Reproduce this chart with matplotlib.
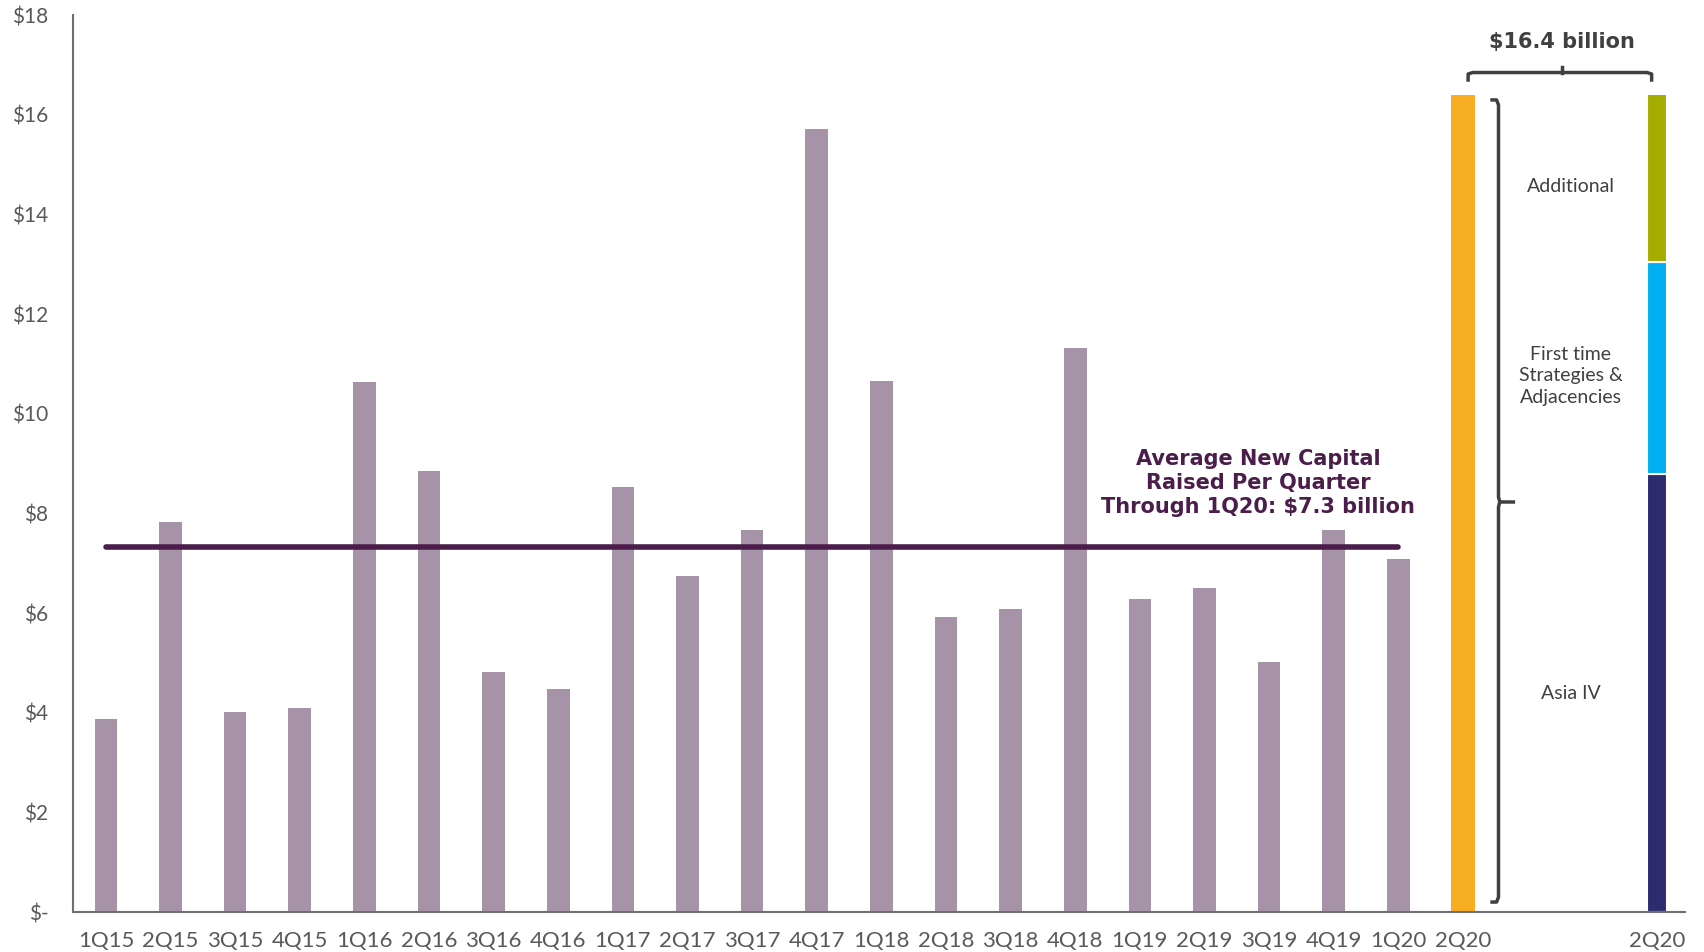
import matplotlib.pyplot as plt
import numpy as np

quarters = ["1Q15", "2Q15", "3Q15", "4Q15", "1Q16", "2Q16", "3Q16", "4Q16",
            "1Q17", "2Q17", "3Q17", "4Q17", "1Q18", "2Q18", "3Q18", "4Q18",
            "1Q19", "2Q19", "3Q19", "4Q19", "1Q20"]
raised = [3.88, 7.83, 4.01, 4.10, 10.63, 8.86, 4.82, 4.47,
          8.53, 6.74, 7.66, 15.71, 10.65, 5.93, 6.09, 11.32,
          6.28, 6.50, 5.02, 7.66, 7.09]
total_2q20 = 16.4
avg_label = 7.33
seg_names = ["Asia IV", "First time\nStrategies &\nAdjacencies", "Additional"]
seg_values = [8.79, 4.26, 3.36]
seg_colors = ["#2A2C6E", "#00B0F0", "#A5AD00"]
yticks = [0, 2, 4, 6, 8, 10, 12, 14, 16, 18]
ytick_labels = ["$-"] + [f"${v}" for v in yticks[1:]]

grey = "#404040"
purple = "#4B1D4B"

fig = plt.figure(figsize=(17.04, 9.52), dpi=100)
ax = fig.add_axes([0.043, 0.042, 0.946, 0.942])

x = np.arange(len(quarters))
ax.bar(x, raised, width=0.35, color="#A793A8")
x_total = len(quarters)
ax.bar(x_total, total_2q20, width=0.36, color="#F7AE23")

x_stack = x_total + 3
bottom = 0
for i, (name, val, col) in enumerate(zip(seg_names, seg_values, seg_colors)):
    ax.bar(x_stack, val, bottom=bottom, width=0.30, color=col,
           edgecolor="white", linewidth=1.5)
    shift = 0 if i == 0 else 0.16
    ax.text(22.67, bottom + val / 2 - shift, name, ha="center", va="center",
            fontsize=14, color=grey, family="Lato", linespacing=1.3)
    bottom += val

# average line
ax.plot([x[0], x[-1]], [avg_label, avg_label], color=purple, lw=4,
        solid_capstyle="round")
ax.text(17.83, 8.62, "Average New Capital\nRaised Per Quarter\nThrough 1Q20: $7.3 billion",
        ha="center", va="center", fontsize=15, fontweight="bold", color=purple,
        linespacing=1.25)

# vertical curly brace next to 2Q20 total
bx, tip = 21.55, 21.78
top, bot, mid = 16.3, 0.2, 8.23
ax.plot([21.45, bx - 0.03, bx, bx, bx + 0.02, tip], [top, top, top - 0.1, mid + 0.1, mid, mid],
        color=grey, lw=2.5, clip_on=False)
ax.plot([21.45, bx - 0.03, bx, bx, bx + 0.02], [bot, bot, bot + 0.1, mid - 0.1, mid],
        color=grey, lw=2.5, clip_on=False)

# horizontal brace over both 2Q20 bars
hy = 16.85
ax.plot([21.08, 21.08, 21.15, 23.85, 23.92, 23.92],
        [hy - 0.15, hy - 0.03, hy, hy, hy - 0.03, hy - 0.15],
        color=grey, lw=2.5, clip_on=False)
ax.plot([22.53, 22.53], [hy, hy + 0.12], color=grey, lw=2.5, clip_on=False)
ax.text(22.53, 17.47, f"${total_2q20} billion", ha="center", va="center",
        fontsize=15, fontweight="bold", color=grey)

ax.set_xlim(-0.505, 24.44)
ax.set_ylim(0, 18)
ax.set_xticks(list(x) + [x_total, x_stack])
ax.set_xticklabels(quarters + ["2Q20", "2Q20"], family="Lato", fontsize=16, color="#595959")
ax.set_yticks(yticks)
ax.set_yticklabels(ytick_labels, family="Lato", fontsize=15, color="#595959")
ax.tick_params(length=0)
ax.tick_params(axis="y", pad=18)
ax.tick_params(axis="x", pad=14)
for side in ["top", "right"]:
    ax.spines[side].set_visible(False)
for side in ["left", "bottom"]:
    ax.spines[side].set_color("#6f6f6f")
    ax.spines[side].set_linewidth(1.5)

fig.savefig("out.png", dpi=100)
